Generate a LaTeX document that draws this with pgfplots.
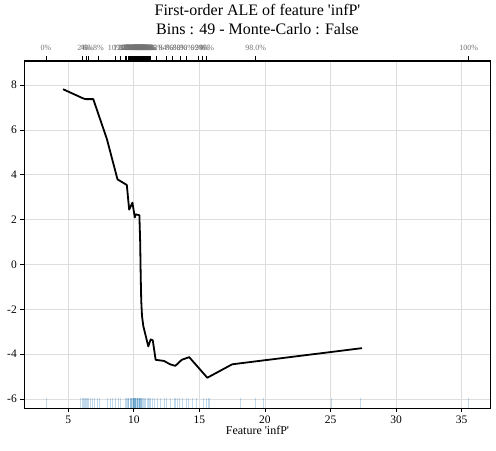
\documentclass[border=0pt]{standalone}
\usepackage{fontspec}
\setmainfont{Liberation Serif}
\usepackage{pgfplots}
\pgfplotsset{compat=1.18}
\usetikzlibrary{calc}
\definecolor{mplblue}{HTML}{1F77B4}
\definecolor{gridc}{HTML}{DDDDDD}
\begin{document}
\begin{tikzpicture}
\begin{axis}[name=ax, scale only axis, width=466.4pt, height=347pt,
  xmin=1.64, xmax=37.22, ymin=-6.4, ymax=9.08,
  xtick={5,10,15,20,25,30,35}, xticklabels={5,10,15,20,25,30,35},
  ytick={-6,-4,-2,0,2,4,6,8}, yticklabels={-6,-4,-2,0,2,4,6,8},
  xtick pos=left, ytick pos=left,
  tick align=outside, major tick length=4pt,
  grid=major, major grid style={gridc, line width=0.8pt},
  axis line style={line width=1pt},
  tick style={black, line width=0.8pt},
  ticklabel style={font=\fontsize{11.5}{13}\selectfont},
  xlabel={Feature \textquotesingle infP\textquotesingle},
  xlabel style={font=\fontsize{12}{14}\selectfont, yshift=4pt},
]
\addplot[only marks, mark=|, mark size=4.8pt, mark options={mplblue, opacity=0.28, line width=0.9pt}] coordinates {
(3.35,-6.17) (5.96,-6.17) (6.05,-6.17) (6.12,-6.17) (6.2,-6.17) (6.3,-6.17) (6.38,-6.17) (6.45,-6.17) (6.55,-6.17) (6.7,-6.17) (6.85,-6.17) (7.0,-6.17) (7.2,-6.17) (7.36,-6.17)
(7.96,-6.17) (8.2,-6.17) (8.4,-6.17) (8.6,-6.17) (8.8,-6.17) (9.0,-6.17)
(9.39,-6.17) (9.45,-6.17) (9.5,-6.17) (9.58,-6.17) (9.62,-6.17) (9.7,-6.17) (9.75,-6.17) (9.8,-6.17) (9.85,-6.17) (9.9,-6.17) (9.95,-6.17) (10.0,-6.17) (10.0,-6.17) (10.03,-6.17) (10.07,-6.17) (10.07,-6.17) (10.1,-6.17) (10.15,-6.17) (10.15,-6.17) (10.2,-6.17) (10.25,-6.17) (10.25,-6.17) (10.3,-6.17) (10.35,-6.17) (10.4,-6.17) (10.4,-6.17) (10.45,-6.17) (10.5,-6.17) (10.5,-6.17) (10.55,-6.17) (10.6,-6.17) (10.65,-6.17) (10.7,-6.17) (10.8,-6.17) (10.9,-6.17) (11.0,-6.17) (11.1,-6.17) (11.2,-6.17) (11.3,-6.17) (11.45,-6.17) (11.6,-6.17) (11.79,-6.17)
(12.05,-6.17) (12.3,-6.17) (12.5,-6.17) (12.8,-6.17) (13.06,-6.17) (13.2,-6.17) (13.3,-6.17) (13.5,-6.17) (13.7,-6.17) (14.0,-6.17) (14.2,-6.17) (14.5,-6.17) (14.8,-6.17)
(15.3,-6.17) (15.5,-6.17) (15.7,-6.17) (15.8,-6.17)
(18.1,-6.17) (19.27,-6.17) (19.85,-6.17) (25.1,-6.17) (27.26,-6.17) (35.5,-6.17)
};
\addplot[black, line width=1.8pt, line join=round] coordinates {
(4.6,7.82) (6.1,7.42) (6.3,7.38) (6.9,7.38) (7.94,5.6) (8.75,3.8) (9.46,3.55)
(9.64,2.45) (9.89,2.76) (10.07,2.1) (10.15,2.24) (10.42,2.2) (10.48,1.0)
(10.52,-0.5) (10.56,-1.6) (10.62,-2.3) (10.72,-2.75) (11.1,-3.65) (11.28,-3.34)
(11.44,-3.38) (11.66,-4.25) (12.3,-4.3) (12.76,-4.45) (13.16,-4.52) (13.65,-4.25)
(14.22,-4.13) (15.6,-5.05) (17.5,-4.45) (27.4,-3.73)
};
\end{axis}
\begin{axis}[at={(ax.south west)}, anchor=south west, scale only axis,
  width=466.4pt, height=347pt,
  xmin=1.64, xmax=37.22, ymin=-6.4, ymax=9.08,
  axis x line*=top, axis y line=none,
  axis line style={line width=0.5pt},
  tick align=outside, major tick length=4.5pt,
  tick style={black, line width=0.7pt},
  xticklabel style={font=\fontsize{8}{9}\selectfont, text=black!55, yshift=2.5pt},
  xtick={3.3,6.09,6.35,6.54,7.30,8.57,9.00,9.33,
    9.46,9.55,9.64,9.72,9.80,9.86,9.92,9.97,10.02,10.07,10.12,10.17,10.22,10.27,10.32,10.37,
    10.42,10.47,10.52,10.57,10.62,10.67,10.72,10.77,10.82,10.87,10.93,10.99,11.05,11.11,11.17,11.24,
    11.75,12.45,12.96,13.52,14.03,14.91,15.24,15.55,19.29,35.55},
  xticklabels={0\%,2\%,4\%,6\%,8\%,10\%,12\%,14\%,16\%,18\%,20\%,22\%,24\%,27\%,29\%,31\%,33\%,35\%,37\%,39\%,41\%,43\%,45\%,47\%,49\%,51\%,53\%,55\%,57\%,59\%,61\%,63\%,65\%,67\%,69\%,71\%,73\%,76\%,78\%,80\%,82\%,84\%,86\%,88\%,90\%,92\%,94\%,96\%,98.0\%,100\%},
]
\end{axis}
\node[align=center, font=\fontsize{16}{19}\selectfont] at ($(ax.north)+(0,42pt)$)
  {First-order ALE of feature \textquotesingle infP\textquotesingle\\Bins : 49 - Monte-Carlo : False};
\pgfresetboundingbox
\path ($(ax.south west)+(-24.3pt,-42pt)$) rectangle ($(ax.north east)+(5.3pt,61pt)$);
\end{tikzpicture}
\end{document}
